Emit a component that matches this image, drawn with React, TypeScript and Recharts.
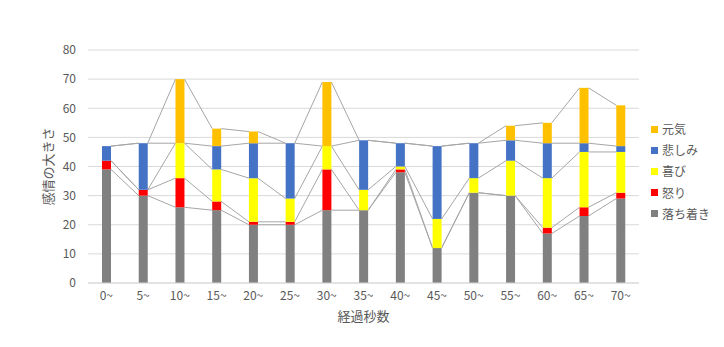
import React from 'react';
import { BarChart, Bar, XAxis, YAxis, CartesianGrid } from 'recharts';

// 経過秒数ごとの感情の大きさ（積み上げ）
const categories = ['0~', '5~', '10~', '15~', '20~', '25~', '30~', '35~', '40~', '45~', '50~', '55~', '60~', '65~', '70~'];
const calm = [39, 30, 26, 25, 20, 20, 25, 25, 38, 12, 31, 30, 17, 23, 29];
const anger = [3, 2, 10, 3, 1, 1, 14, 0, 1, 0, 0, 0, 2, 3, 2];
const joy = [0, 0, 12, 11, 15, 8, 8, 7, 1, 10, 5, 12, 17, 19, 14];
const sadness = [5, 16, 0, 8, 12, 19, 0, 17, 8, 25, 12, 7, 12, 3, 2];
const genki = [0, 0, 22, 6, 4, 0, 22, 0, 0, 0, 0, 5, 7, 19, 14];
const yTicks = [0, 10, 20, 30, 40, 50, 60, 70, 80];

const SERIES = [
  { key: 'calm', name: '落ち着き', color: '#808080', values: calm },
  { key: 'anger', name: '怒り', color: '#ff0000', values: anger },
  { key: 'joy', name: '喜び', color: '#ffff00', values: joy },
  { key: 'sadness', name: '悲しみ', color: '#4472c4', values: sadness },
  { key: 'genki', name: '元気', color: '#ffc000', values: genki },
];

const data = categories.map((label, i) => {
  const row: any = { label };
  SERIES.forEach((s) => { row[s.key] = s.values[i]; });
  return row;
});

const W = 724;
const H = 347;
const MARGIN = { top: 50, right: 85, bottom: 0, left: 0 };
const Y_AXIS_W = 88;
const BAND = (W - MARGIN.left - MARGIN.right - Y_AXIS_W) / categories.length;
const TEXT = '#595959';

// 系列 k までの積み上げ値
const cum = (i: number, k: number) => {
  let s = 0;
  for (let j = 0; j <= k; j++) s += SERIES[j].values[i];
  return s;
};

// 一番下の系列の棒を描くついでに区分線（系列線）も描く
const CalmShape = (props: any) => {
  const { x, y, width, height, index, fill } = props;
  const base = y + height;
  const ppu = height / calm[index];
  const lines: React.ReactNode[] = [];
  if (index < categories.length - 1) {
    SERIES.forEach((s, k) => {
      lines.push(
        <line
          key={s.key}
          x1={x + width}
          y1={base - cum(index, k) * ppu}
          x2={x + BAND}
          y2={base - cum(index + 1, k) * ppu}
          stroke="#a6a6a6"
          strokeWidth={1}
        />
      );
    });
  }
  return (
    <g>
      <rect x={x} y={y} width={width} height={height} fill={fill} />
      {lines}
    </g>
  );
};

export default function App() {
  return (
    <div style={{ position: 'absolute', left: 0, top: 0, width: W, height: H, background: '#fff', fontFamily: '"Noto Sans CJK JP", "Noto Sans", sans-serif' }}>
      <BarChart width={W} height={H} data={data} margin={MARGIN} barSize={9}>
        <CartesianGrid vertical={false} stroke="#d9d9d9" />
        <XAxis
          dataKey="label"
          height={64}
          axisLine={{ stroke: '#d9d9d9' }}
          tickLine={false}
          tick={{ fill: TEXT, fontSize: 12 }}
          interval={0}
          label={{ value: '経過秒数', position: 'insideBottom', offset: 26, fill: TEXT, fontSize: 13 }}
        />
        <YAxis
          width={Y_AXIS_W}
          domain={[0, 80]}
          ticks={yTicks}
          axisLine={false}
          tickLine={false}
          tickMargin={6}
          tick={{ fill: TEXT, fontSize: 12 }}
          label={{ value: '感情の大きさ', angle: -90, position: 'insideLeft', offset: 48, fill: TEXT, fontSize: 13, style: { textAnchor: 'middle' } }}
        />
        {SERIES.map((s) => (
          <Bar
            key={s.key}
            dataKey={s.key}
            name={s.name}
            stackId="a"
            fill={s.color}
            isAnimationActive={false}
            shape={s.key === 'calm' ? CalmShape : undefined}
          />
        ))}
      </BarChart>
      <div style={{ position: 'absolute', left: 651, top: 122 }}>
        {[...SERIES].reverse().map((s, i) => (
          <div key={s.key} style={{ position: 'absolute', left: 0, top: i * 21.2, height: 14, display: 'flex', alignItems: 'center', whiteSpace: 'nowrap' }}>
            <span style={{ display: 'inline-block', width: 7, height: 7, background: s.color, marginRight: 4 }} />
            <span style={{ fontSize: 12, color: TEXT, lineHeight: '14px' }}>{s.name}</span>
          </div>
        ))}
      </div>
    </div>
  );
}
